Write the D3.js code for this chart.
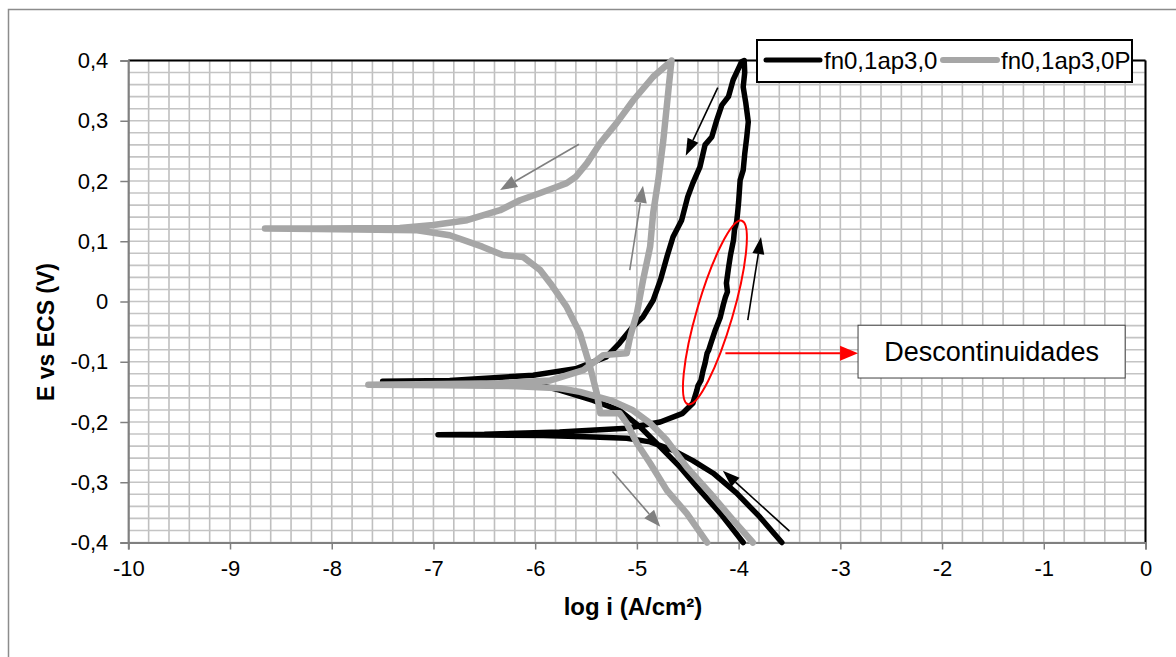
<!DOCTYPE html>
<html>
<head>
<meta charset="utf-8">
<script src="https://cdn.jsdelivr.net/npm/d3@7"></script>
<style>
  body { margin: 0; background: #fff; }
  text { font-family: "Liberation Sans", Arial, sans-serif; }
</style>
</head>
<body>
<div id="chart"></div>
<script>
// ---- data (log i, E), in scan order ----
const serieNames = ["fn0,1ap3,0", "fn0,1ap3,0P"];
const serieColors = ["#000000", "#a6a6a6"];

const black = [
    [-3.575, -0.400], [-3.79, -0.358], [-4.02, -0.318], [-4.25, -0.285], [-4.45, -0.264],
    [-4.64, -0.247], [-4.87, -0.233], [-5.10, -0.227], [-5.43, -0.225], [-5.92, -0.2225],
    [-6.50, -0.2215], [-6.955, -0.221],
    [-6.50, -0.2205], [-5.76, -0.2166], [-5.10, -0.2105], [-4.77, -0.200], [-4.55, -0.1856],
    [-4.45, -0.169], [-4.41, -0.147], [-4.40, -0.140], [-4.37, -0.131], [-4.35, -0.115],
    [-4.33, -0.1025], [-4.31, -0.086], [-4.295, -0.081], [-4.27, -0.068], [-4.23, -0.0477],
    [-4.20, -0.035], [-4.18, -0.026], [-4.15, -0.005], [-4.13, 0.007], [-4.11, 0.016],
    [-4.12, 0.0304], [-4.10, 0.055], [-4.08, 0.077], [-4.05, 0.102], [-4.04, 0.120],
    [-4.02, 0.132], [-4.01, 0.147], [-4.00, 0.165], [-3.985, 0.2015], [-3.955, 0.218],
    [-3.94, 0.245], [-3.92, 0.273], [-3.905, 0.298], [-3.93, 0.330], [-3.955, 0.356],
    [-3.94, 0.380], [-3.945, 0.400],
    [-3.97, 0.398], [-4.054, 0.3676], [-4.10, 0.340], [-4.165, 0.326], [-4.215, 0.301],
    [-4.264, 0.273], [-4.33, 0.260], [-4.38, 0.2236], [-4.45, 0.1965], [-4.50, 0.174],
    [-4.56, 0.135], [-4.645, 0.107], [-4.705, 0.074], [-4.77, 0.035], [-4.84, 0.002],
    [-4.94, -0.0256], [-5.04, -0.042], [-5.17, -0.069], [-5.30, -0.092], [-5.59, -0.111],
    [-6.02, -0.1225], [-6.84, -0.131], [-7.50, -0.1325],
    [-6.84, -0.1355], [-5.95, -0.139], [-5.76, -0.147], [-5.43, -0.164], [-5.17, -0.1806],
    [-4.97, -0.208], [-4.77, -0.2415], [-4.575, -0.275], [-4.38, -0.3135], [-4.18, -0.3517],
    [-3.955, -0.400]
];

const gray = [
    [-3.86, -0.400], [-4.054, -0.363], [-4.28, -0.318], [-4.51, -0.275], [-4.705, -0.2304],
    [-4.87, -0.202], [-5.04, -0.1806], [-5.26, -0.164], [-5.56, -0.150], [-5.755, -0.144],
    [-6.18, -0.1405], [-6.90, -0.139], [-7.64, -0.138],
    [-6.90, -0.137], [-6.35, -0.1357], [-5.85, -0.131], [-5.525, -0.114], [-5.33, -0.089],
    [-5.10, -0.086], [-5.067, -0.059], [-5.00, -0.0195], [-4.94, 0.035], [-4.87, 0.091],
    [-4.84, 0.147], [-4.79, 0.2015], [-4.74, 0.268], [-4.69, 0.351], [-4.66, 0.400],
    [-4.67, 0.398], [-4.84, 0.373], [-5.035, 0.334], [-5.20, 0.296], [-5.36, 0.263],
    [-5.49, 0.2297], [-5.60, 0.207], [-5.69, 0.1965], [-5.79, 0.190], [-5.95, 0.180],
    [-6.15, 0.168], [-6.345, 0.1515], [-6.67, 0.135], [-7.00, 0.127], [-7.33, 0.122],
    [-8.15, 0.121], [-8.656, 0.121],
    [-8.15, 0.1205], [-7.16, 0.1184], [-6.84, 0.110], [-6.52, 0.091], [-6.32, 0.077],
    [-6.12, 0.074], [-5.95, 0.052], [-5.85, 0.030], [-5.69, -0.009], [-5.56, -0.0527],
    [-5.46, -0.1086], [-5.395, -0.152], [-5.36, -0.1855], [-5.17, -0.1855], [-5.10, -0.202],
    [-5.00, -0.2354], [-4.87, -0.2686], [-4.705, -0.3135], [-4.51, -0.3517], [-4.31, -0.400]
];

const xTicks = [-10, -9, -8, -7, -6, -5, -4, -3, -2, -1, 0];
const yTicks = [-0.4, -0.3, -0.2, -0.1, 0, 0.1, 0.2, 0.3, 0.4];

// arrows: [x1, y1, x2, y2] in data units, head at the second point
const blackArrows = [
    [-4.205, 0.355, -4.52, 0.242],
    [-3.91, -0.031, -3.78, 0.107],
    [-3.50, -0.381, -4.155, -0.281]
];
const grayArrows = [
    [-5.57, 0.261, -6.345, 0.185],
    [-5.07, 0.052, -4.94, 0.192],
    [-5.24, -0.282, -4.77, -0.374]
];
// red ellipse: two ends of the long axis
const ellipseEnds = [[-3.969, 0.134], [-4.497, -0.1706]];
const redArrow = [-4.13, -0.086, -2.826, -0.086];
const noteBox = { x0: -2.826, x1: -0.20, y0: -0.0394, y1: -0.127, text: "Descontinuidades" };

// ---- drawing ----
const W = 1176, H = 657;
const svg = d3.select("#chart").append("svg")
    .attr("width", W)
    .attr("height", H);

svg.append("rect").attr("width", W).attr("height", H).attr("fill", "#fff");
// outer chart border (cut at right and bottom)
svg.append("rect")
    .attr("x", 8.5).attr("y", 9.5)
    .attr("width", W).attr("height", H)
    .attr("fill", "none").attr("stroke", "#8c8c8c").attr("stroke-width", 1.5);

let x = d3.scaleLinear().domain([-10, 0]).range([128.3, 1145.5]);
let y = d3.scaleLinear().domain([-0.4, 0.4]).range([542.5, 60.5]);

// grid
let g = svg.append("g");
let vx = d3.range(0, 51).map(i => -10 + i * 0.2);
let hy = d3.range(0, 41).map(i => -0.4 + i * 0.02);
g.selectAll(".vg").data(vx).enter().append("line")
    .attr("x1", d => x(d)).attr("x2", d => x(d))
    .attr("y1", y(-0.4)).attr("y2", y(0.4))
    .attr("stroke", "#bfbfbf").attr("stroke-width", 1.6);
g.selectAll(".hg").data(hy).enter().append("line")
    .attr("x1", x(-10)).attr("x2", x(0))
    .attr("y1", d => y(d)).attr("y2", d => y(d))
    .attr("stroke", "#c4c4c4").attr("stroke-width", 1.6);

// plot frame top / right
svg.append("line").attr("x1", x(-10)).attr("x2", x(0)).attr("y1", y(0.4)).attr("y2", y(0.4))
    .attr("stroke", "#000").attr("stroke-width", 2);
svg.append("line").attr("x1", x(0)).attr("x2", x(0)).attr("y1", y(0.4)).attr("y2", y(-0.4))
    .attr("stroke", "#000").attr("stroke-width", 2);

function fmtY(d) {
    let v = Math.round(d * 10) / 10;
    if (v === 0) return "0";
    return (v < 0 ? "-" : "") + Math.abs(v).toFixed(1).replace(".", ",");
}
function fmtX(d) {
    return (d < 0 ? "-" : "") + Math.abs(d);
}

let yAxis = svg.append("g")
    .attr("transform", "translate(" + x(-10) + ",0)")
    .call(d3.axisLeft(y).tickValues(yTicks).tickFormat(fmtY).tickSize(8).tickPadding(12));
let xAxis = svg.append("g")
    .attr("transform", "translate(0," + y(-0.4) + ")")
    .call(d3.axisBottom(x).tickValues(xTicks).tickFormat(fmtX).tickSize(7).tickPadding(11));
[xAxis, yAxis].forEach(a => {
    a.select(".domain").attr("stroke", "#808080").attr("stroke-width", 2);
    a.selectAll(".tick line").attr("stroke", "#808080").attr("stroke-width", 1.5);
    a.selectAll(".tick text")
        .style("font-size", "22px")
        .style("font-family", "'Liberation Sans', Arial, sans-serif")
        .attr("fill", "#000");
});

// axis titles
svg.append("text")
    .attr("x", 633).attr("y", 615)
    .attr("text-anchor", "middle")
    .style("font-size", "24px").style("font-weight", "bold")
    .text("log i (A/cm²)");
svg.append("text")
    .attr("transform", "translate(54,332) rotate(-90)")
    .attr("text-anchor", "middle")
    .style("font-size", "23px").style("font-weight", "bold")
    .text("E vs ECS (V)");

// curves
let line = d3.line().x(d => x(d[0])).y(d => y(d[1]));
let curves = svg.append("g");
curves.append("path").datum(black)
    .attr("d", line)
    .attr("fill", "none").attr("stroke", serieColors[0])
    .attr("stroke-width", 5.5).attr("stroke-linejoin", "round").attr("stroke-linecap", "round");
curves.append("path").datum(gray)
    .attr("d", line)
    .attr("fill", "none").attr("stroke", serieColors[1])
    .attr("stroke-width", 6.5).attr("stroke-linejoin", "round").attr("stroke-linecap", "round");

// arrows
function drawArrow(a, color, width, headLen, headW) {
    let x1 = x(a[0]), y1 = y(a[1]), x2 = x(a[2]), y2 = y(a[3]);
    let ang = Math.atan2(y2 - y1, x2 - x1);
    let bx = x2 - headLen * Math.cos(ang), by = y2 - headLen * Math.sin(ang);
    svg.append("line")
        .attr("x1", x1).attr("y1", y1).attr("x2", bx).attr("y2", by)
        .attr("stroke", color).attr("stroke-width", width);
    let px = -Math.sin(ang) * headW / 2, py = Math.cos(ang) * headW / 2;
    svg.append("path")
        .attr("d", "M" + x2 + "," + y2 + "L" + (bx + px) + "," + (by + py) + "L" + (bx - px) + "," + (by - py) + "Z")
        .attr("fill", color);
}
blackArrows.forEach(a => drawArrow(a, "#000", 1.6, 17, 12));
grayArrows.forEach(a => drawArrow(a, "#808080", 1.6, 17, 13));

// red ellipse
let e0 = [x(ellipseEnds[0][0]), y(ellipseEnds[0][1])];
let e1 = [x(ellipseEnds[1][0]), y(ellipseEnds[1][1])];
let ecx = (e0[0] + e1[0]) / 2, ecy = (e0[1] + e1[1]) / 2;
let erx = Math.hypot(e0[0] - e1[0], e0[1] - e1[1]) / 2;
let eang = Math.atan2(e0[1] - e1[1], e0[0] - e1[0]) * 180 / Math.PI;
svg.append("ellipse")
    .attr("cx", ecx).attr("cy", ecy)
    .attr("rx", erx).attr("ry", 18)
    .attr("transform", "rotate(" + eang + "," + ecx + "," + ecy + ")")
    .attr("fill", "none").attr("stroke", "#ff0000").attr("stroke-width", 2);

drawArrow(redArrow, "#ff0000", 2, 18, 15);

// note box
svg.append("rect")
    .attr("x", x(noteBox.x0)).attr("y", y(noteBox.y0))
    .attr("width", x(noteBox.x1) - x(noteBox.x0))
    .attr("height", y(noteBox.y1) - y(noteBox.y0))
    .attr("fill", "#fff").attr("stroke", "#404040").attr("stroke-width", 1);
svg.append("text")
    .attr("x", (x(noteBox.x0) + x(noteBox.x1)) / 2)
    .attr("y", (y(noteBox.y0) + y(noteBox.y1)) / 2 + 9)
    .attr("text-anchor", "middle")
    .style("font-size", "27px")
    .text(noteBox.text);

// legend
let legend = svg.append("g").attr("transform", "translate(757,40)");
legend.append("rect")
    .attr("width", 375).attr("height", 42)
    .attr("fill", "#fff").attr("stroke", "#000").attr("stroke-width", 2);
let legX = [9, 186];
serieNames.forEach((name, i) => {
    legend.append("line")
        .attr("x1", legX[i]).attr("x2", legX[i] + 54)
        .attr("y1", 20).attr("y2", 20)
        .attr("stroke", serieColors[i]).attr("stroke-width", i == 0 ? 5 : 6)
        .attr("stroke-linecap", "round");
    legend.append("text")
        .attr("x", legX[i] + 58).attr("y", 29)
        .style("font-size", "24px")
        .text(name);
});
</script>
</body>
</html>
